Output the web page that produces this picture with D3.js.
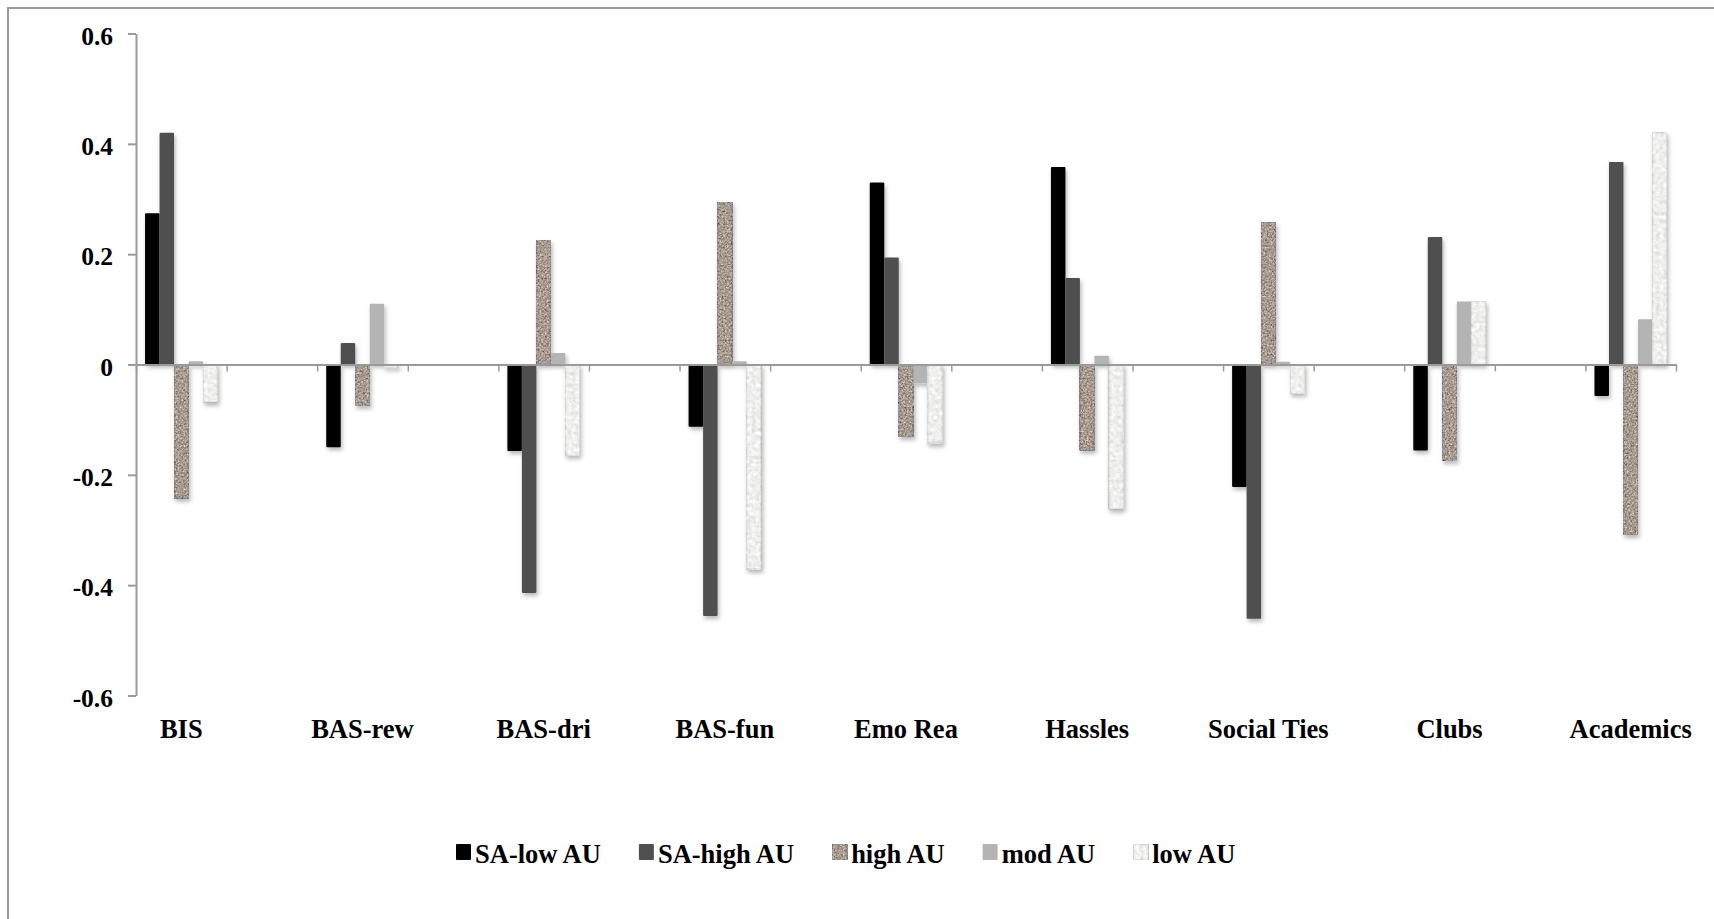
<!DOCTYPE html>
<html>
<head>
<meta charset="utf-8">
<script src="https://cdn.jsdelivr.net/npm/d3@7/dist/d3.min.js"></script>
<style>
  html, body { margin: 0; padding: 0; background: #ffffff; }
  svg { display: block; }
  text { font-family: "Liberation Serif", "Times New Roman", serif; font-weight: bold; fill: #000; }
</style>
</head>
<body>
<svg id="chart" width="1714" height="919"></svg>
<script>
// Scale categories
const categories = ["BIS", "BAS-rew", "BAS-dri", "BAS-fun", "Emo Rea", "Hassles", "Social Ties", "Clubs", "Academics"];

// Series names
const seriesNames = ["SA-low AU", "SA-high AU", "high AU", "mod AU", "low AU"];

// Series values, one per category
const saLowAU  = [0.274, -0.150, -0.157, -0.113, 0.330, 0.358, -0.222, -0.156, -0.057];
const saHighAU = [0.420, 0.039, -0.414, -0.456, 0.194, 0.157, -0.461, 0.231, 0.367];
const highAU   = [-0.242, -0.075, 0.225, 0.294, -0.131, -0.155, 0.257, -0.174, -0.309];
const modAU    = [0.006, 0.110, 0.021, 0.006, -0.034, 0.016, 0.005, 0.114, 0.082];
const lowAU    = [-0.068, -0.006, -0.165, -0.371, -0.143, -0.262, -0.053, 0.115, 0.421];

// Value-axis ticks
const yTickValues = [0.6, 0.4, 0.2, 0, -0.2, -0.4, -0.6];
const yTickLabels = ["0.6", "0.4", "0.2", "0", "-0.2", "-0.4", "-0.6"];

const seriesValues = [saLowAU, saHighAU, highAU, modAU, lowAU];

const svg = d3.select("#chart");
const W = 1714, H = 919;

// ---- defs: shadow + stone textures ----
const defs = svg.append("defs");

const shadow = defs.append("filter").attr("id", "barShadow")
  .attr("x", "-30%").attr("y", "-10%").attr("width", "160%").attr("height", "130%");
shadow.append("feDropShadow")
  .attr("dx", 1.5).attr("dy", 3).attr("stdDeviation", 2)
  .attr("flood-color", "#000").attr("flood-opacity", 0.28);

function stoneFilter(id, freq, amount, seed) {
  const f = defs.append("filter").attr("id", id)
    .attr("x", 0).attr("y", 0).attr("width", 1).attr("height", 1)
    .attr("color-interpolation-filters", "sRGB");
  f.append("feTurbulence").attr("type", "fractalNoise")
    .attr("baseFrequency", freq).attr("numOctaves", 3).attr("seed", seed).attr("result", "noise");
  f.append("feColorMatrix").attr("in", "noise").attr("type", "matrix")
    .attr("values", "0.33 0.33 0.33 0 0  0.33 0.33 0.33 0 0  0.33 0.33 0.33 0 0  0 0 0 0 1")
    .attr("result", "grey");
  f.append("feComposite").attr("in", "SourceGraphic").attr("in2", "grey")
    .attr("operator", "arithmetic")
    .attr("k1", 0).attr("k2", 1).attr("k3", amount).attr("k4", -amount / 2)
    .attr("result", "mix");
  f.append("feComposite").attr("in", "mix").attr("in2", "SourceGraphic").attr("operator", "in");
}
stoneFilter("granite", 0.55, 1.2, 7);
stoneFilter("marble", 0.25, 0.35, 3);

const seriesStyle = [
  { fill: "#000000", stroke: "none", filter: null },
  { fill: "#505050", stroke: "none", filter: null },
  { fill: "#a89c90", stroke: "#8e8e8e", filter: "url(#granite)" },
  { fill: "#b4b4b4", stroke: "none", filter: null },
  { fill: "#efefed", stroke: "#dcdcdc", filter: "url(#marble)" }
];

// ---- frame ----
svg.append("path")
  .attr("d", `M8,${H} L8,8 L${W},8`)
  .attr("fill", "none").attr("stroke", "#9a9a9a").attr("stroke-width", 2);

// ---- scales ----
const plotLeft = 136, plotRight = 1676, plotTop = 33.5, plotBottom = 695.5;
const slotCount = categories.length * 2 - 1;  // a spacer slot between neighbouring categories

const x = d3.scaleBand()
  .domain(d3.range(slotCount))
  .range([plotLeft, plotRight])
  .paddingInner(0).paddingOuter(0);

const xSeries = d3.scaleBand()
  .domain(d3.range(seriesNames.length))
  .range([x.bandwidth() * 0.1, x.bandwidth() * 0.9])
  .padding(0);

const y = d3.scaleLinear().domain([-0.6, 0.6]).range([plotBottom, plotTop]);

// ---- bars ----
const barLayer = svg.append("g").attr("filter", "url(#barShadow)");
seriesValues.forEach((vals, s) => {
  const st = seriesStyle[s];
  barLayer.append("g")
    .selectAll("rect")
    .data(vals)
    .join("rect")
    .attr("x", (d, i) => x(i * 2) + xSeries(s))
    .attr("width", xSeries.bandwidth())
    .attr("y", d => y(Math.max(0, d)))
    .attr("height", d => Math.max(0.8, Math.abs(y(d) - y(0))))
    .attr("rx", 1)
    .attr("fill", st.fill)
    .attr("stroke", st.stroke)
    .attr("stroke-width", st.stroke === "none" ? 0 : 1.6)
    .attr("filter", st.filter);
});

// ---- axes ----
const axisColor = "#9a9a9a";

const yAxis = svg.append("g")
  .attr("transform", `translate(${plotLeft},0)`)
  .call(d3.axisLeft(y)
    .tickValues(yTickValues)
    .tickFormat((d, i) => yTickLabels[i])
    .tickSizeInner(8).tickSizeOuter(0).tickPadding(15));
yAxis.select(".domain").attr("stroke", axisColor).attr("stroke-width", 2);
yAxis.selectAll(".tick line").attr("stroke", axisColor).attr("stroke-width", 2);
yAxis.selectAll(".tick text")
  .attr("font-size", 25.5).attr("font-family", null).attr("dy", "0.42em");
yAxis.attr("font-family", null).attr("font-size", null);

// category axis: a tick at every slot boundary, sitting on the zero line
const slotEdges = d3.scaleLinear().domain([0, slotCount]).range([plotLeft, plotRight]);
const xAxis = svg.append("g")
  .attr("transform", `translate(0,${y(0)})`)
  .call(d3.axisBottom(slotEdges)
    .tickValues(d3.range(slotCount + 1))
    .tickFormat("")
    .tickSizeInner(7).tickSizeOuter(0));
xAxis.select(".domain").attr("stroke", axisColor).attr("stroke-width", 2);
xAxis.selectAll(".tick line").attr("stroke", axisColor).attr("stroke-width", 1.5);

// category labels along the bottom of the plot
svg.append("g")
  .selectAll("text")
  .data(categories)
  .join("text")
  .attr("x", (d, i) => x(i * 2) + x.bandwidth() / 2)
  .attr("y", plotBottom + 42)
  .attr("text-anchor", "middle")
  .attr("font-size", 26.5)
  .text(d => d);

// ---- legend ----
const legend = svg.append("g").attr("transform", "translate(456,863)");
let lx = 0;
seriesNames.forEach((name, s) => {
  const st = seriesStyle[s];
  legend.append("rect")
    .attr("x", lx).attr("y", -19)
    .attr("width", 15).attr("height", 16)
    .attr("rx", 1)
    .attr("fill", st.fill)
    .attr("stroke", st.stroke)
    .attr("stroke-width", st.stroke === "none" ? 0 : 1.4)
    .attr("filter", st.filter);
  const t = legend.append("text")
    .attr("x", lx + 19).attr("y", 0)
    .attr("font-size", 26.5)
    .text(name);
  lx += 19 + t.node().getComputedTextLength() + 38;
});
</script>
</body>
</html>
